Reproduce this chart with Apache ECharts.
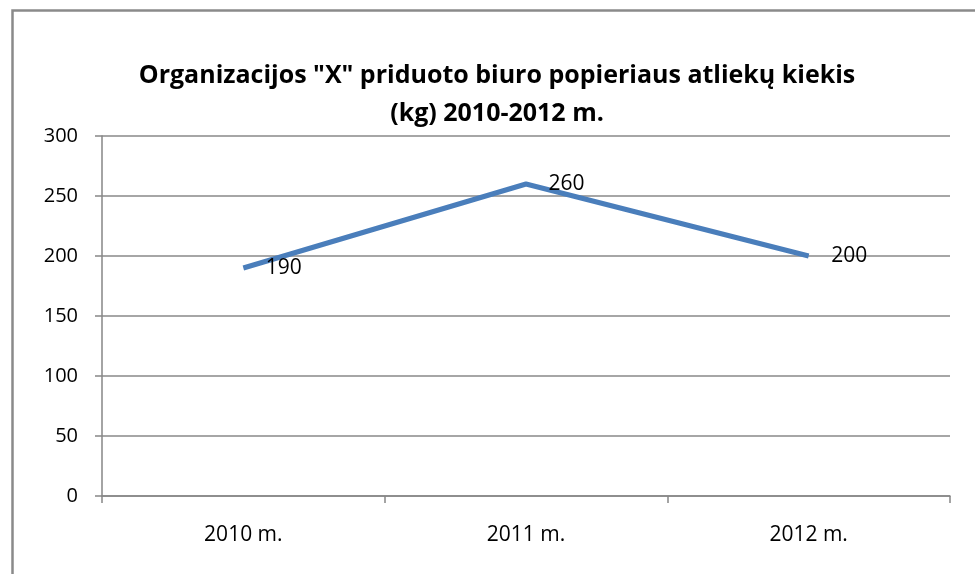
<!DOCTYPE html>
<html>
<head>
<meta charset="utf-8">
<script src="https://cdn.jsdelivr.net/npm/echarts@6/dist/echarts.min.js"></script>
<style>
html,body{margin:0;padding:0;background:#fff;}
#c{width:975px;height:574px;}
</style>
</head>
<body>
<div id="c"></div>
<script>
const categories = ["2010 m.", "2011 m.", "2012 m."];
const values = [190, 260, 200];
const titleText = 'Organizacijos "X" priduoto biuro popieriaus atliekų kiekis\n(kg) 2010-2012 m.';

const chart = echarts.init(document.getElementById('c'), null, {renderer: 'canvas'});
chart.setOption({
  animation: false,
  backgroundColor: '#ffffff',
  graphic: [{
    type: 'rect',
    left: 10, top: 8,
    shape: {x: 0, y: 0, width: 1100, height: 700},
    style: {fill: 'none', stroke: '#8a8a8a', lineWidth: 2.5},
    silent: true, z: 100
  }],
  title: {
    text: titleText,
    left: 492, top: 52,
    textAlign: 'center',
    textStyle: {fontFamily: 'Open Sans', fontWeight: 'bold', fontSize: 25, lineHeight: 38, color: '#000'}
  },
  grid: {left: 102, right: 25, top: 136, bottom: 78, containLabel: false},
  xAxis: {
    type: 'category',
    data: categories,
    boundaryGap: true,
    axisLine: {lineStyle: {color: '#868686', width: 1.5}},
    axisTick: {show: true, length: 7, alignWithLabel: false, lineStyle: {color: '#868686', width: 1.5}},
    axisLabel: {fontFamily: 'Open Sans', fontSize: 21, color: '#000', margin: 29}
  },
  yAxis: {
    type: 'value',
    min: 0, max: 300, interval: 50,
    axisLine: {show: true, lineStyle: {color: '#868686', width: 1.5}},
    axisTick: {show: true, length: 7, lineStyle: {color: '#868686', width: 1.5}},
    axisLabel: {fontFamily: 'Open Sans', fontSize: 20, color: '#000', margin: 24},
    splitLine: {lineStyle: {color: '#888888', width: 1.5}}
  },
  series: [{
    type: 'line',
    data: values,
    symbol: 'circle',
    symbolSize: 1,
    showSymbol: true,
    itemStyle: {color: 'rgba(0,0,0,0)'},
    lineStyle: {color: '#4a7ebb', width: 5},
    label: {show: true, position: 'right', distance: 22, fontFamily: 'Open Sans', fontSize: 21, color: '#000'},
    labelLayout: {hideOverlap: false}
  }]
});
</script>
</body>
</html>
